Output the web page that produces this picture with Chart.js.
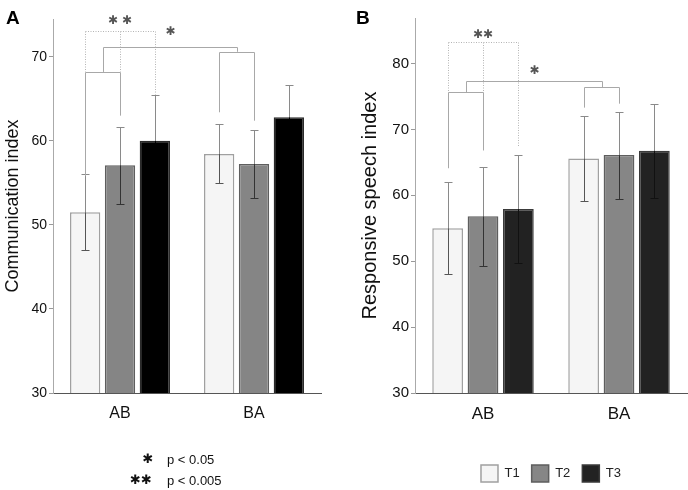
<!DOCTYPE html>
<html>
<head>
<meta charset="utf-8">
<script src="https://cdn.jsdelivr.net/npm/chart.js@4.4.0/dist/chart.umd.min.js"></script>
<style>
    html, body { margin: 0; padding: 0; background: #fff; }
    #wrap { position: relative; width: 688px; height: 490px; }
    .panel { position: absolute; top: 0; width: 344px; height: 490px; }
</style>
</head>
<body>
<div id="wrap">
    <div class="panel" style="left:0"><canvas id="chartA" width="344" height="490"></canvas></div>
    <div class="panel" style="left:344px"><canvas id="chartB" width="344" height="490"></canvas></div>
</div>
<script>
const groups = ['AB', 'BA'];
const seriesNames = ['T1', 'T2', 'T3'];

// Panel A - communication index (means and error half-widths)
const commT1 = [51.5, 58.45];
const commT2 = [57.1, 57.25];
const commT3 = [60.0, 62.8];
const commErrT1 = [4.5, 3.5];
const commErrT2 = [4.6, 4.1];
const commErrT3 = [5.5, 3.8];
const commTicks = [30, 40, 50, 60, 70];

// Panel B - responsive speech index
const speechT1 = [55.0, 65.6];
const speechT2 = [56.8, 66.1];
const speechT3 = [57.9, 66.75];
const speechErrT1 = [7.0, 6.5];
const speechErrT2 = [7.5, 6.6];
const speechErrT3 = [8.2, 7.1];
const speechTicks = [30, 40, 50, 60, 70, 80];

// significance brackets (levels in index units)
const bracketsA = [
    { cat: 0, bars: [0, 1, 2], level: 73.1, ends: [68.2, 68.2, 65.5], dash: true },
    { cat: 0, bars: [0, 1], level: 68.2, ends: [55.8, 63.0] },
    { cat: 1, bars: [0, 1], level: 70.6, ends: [63.4, 62.4] }
];
const linkA = { level: 71.2, ends: [68.2, 70.6] };
const starsA = [
    { text: '✱ ✱', cat: 0, bar: 1, value: 74.3 },
    { text: '✱', link: true, value: 73.0 }
];

const bracketsB = [
    { cat: 0, bars: [0, 1, 2], level: 83.2, ends: [75.6, 75.6, 67.4], dash: true },
    { cat: 0, bars: [0, 1], level: 75.6, ends: [64.1, 66.8] },
    { cat: 1, bars: [0, 1], level: 76.4, ends: [73.3, 73.9] }
];
const linkB = { level: 77.4, ends: [75.6, 76.4] };
const starsB = [
    { text: '✱✱', cat: 0, bar: 1, value: 84.4 },
    { text: '✱', link: true, value: 78.9 }
];

const FONT = "'Liberation Sans', Arial, sans-serif";

function barX(chart, ds, cat) {
    return chart.getDatasetMeta(ds).data[cat].x;
}

// error bars, brackets, stars, panel letter
const sigPlugin = {
    id: 'sig',
    afterDatasetsDraw(chart, args, opts) {
        const ctx = chart.ctx;
        const y = chart.scales.y;
        ctx.save();

        // error bars: lighter above the bar, darker inside
        opts.errors.forEach((errs, ds) => {
            const meta = chart.getDatasetMeta(ds);
            meta.data.forEach((bar, i) => {
                const v = chart.data.datasets[ds].data[i];
                const yTop = Math.round(y.getPixelForValue(v + errs[i])) + 0.5;
                const yBot = Math.round(y.getPixelForValue(v - errs[i])) + 0.5;
                const x = Math.round(bar.x) + 0.5;
                ctx.lineWidth = 1;
                ctx.strokeStyle = opts.errOuter;
                ctx.beginPath();
                ctx.moveTo(x, yTop); ctx.lineTo(x, bar.y);
                ctx.moveTo(x - 4, yTop); ctx.lineTo(x + 4, yTop);
                ctx.stroke();
                ctx.strokeStyle = opts.errInner[ds];
                ctx.beginPath();
                ctx.moveTo(x, bar.y); ctx.lineTo(x, yBot);
                ctx.moveTo(x - 4, yBot); ctx.lineTo(x + 4, yBot);
                ctx.stroke();
            });
        });

        // brackets
        const mids = [];
        opts.brackets.forEach(b => {
            const xs = b.bars.map(k => Math.round(barX(chart, k, b.cat)) + 0.5);
            const yl = Math.round(y.getPixelForValue(b.level)) + 0.5;
            ctx.strokeStyle = b.dash ? '#b4b4b4' : '#a8a8a8';
            ctx.lineWidth = 1;
            ctx.setLineDash(b.dash ? [1, 1.5] : []);
            ctx.beginPath();
            ctx.moveTo(xs[0], yl); ctx.lineTo(xs[xs.length - 1], yl);
            xs.forEach((x, k) => {
                ctx.moveTo(x, yl); ctx.lineTo(x, y.getPixelForValue(b.ends[k]));
            });
            ctx.stroke();
            if (!b.dash) mids.push((xs[0] + xs[xs.length - 1]) / 2);
        });
        ctx.setLineDash([]);
        const link = opts.link;
        const ly = Math.round(y.getPixelForValue(link.level)) + 0.5;
        const m0 = Math.round(mids[0]) + 0.5, m1 = Math.round(mids[1]) + 0.5;
        ctx.strokeStyle = '#a8a8a8';
        ctx.beginPath();
        ctx.moveTo(m0, y.getPixelForValue(link.ends[0]));
        ctx.lineTo(m0, ly); ctx.lineTo(m1, ly);
        ctx.lineTo(m1, y.getPixelForValue(link.ends[1]));
        ctx.stroke();

        // stars
        ctx.fillStyle = '#555';
        ctx.font = '12px DejaVu Sans';
        ctx.textAlign = 'center';
        ctx.textBaseline = 'middle';
        opts.stars.forEach(s => {
            const x = s.link ? (m0 + m1) / 2 : barX(chart, s.bar, s.cat);
            ctx.fillText(s.text, x, y.getPixelForValue(s.value));
        });
        ctx.restore();
    },
    afterDraw(chart, args, opts) {
        const ctx = chart.ctx;
        ctx.save();
        ctx.fillStyle = '#000';
        ctx.font = 'bold 19px ' + FONT;
        ctx.textAlign = 'left';
        ctx.textBaseline = 'alphabetic';
        ctx.fillText(opts.letter, opts.letterX, 24);
        if (opts.keyNote) {
            ctx.textBaseline = 'middle';
            ctx.textAlign = 'center';
            ctx.font = '13px DejaVu Sans';
            ctx.fillStyle = '#111';
            ctx.fillText('✱', 148, 460);
            ctx.fillText('✱✱', 141, 481);
            ctx.textAlign = 'left';
            ctx.font = '13px ' + FONT;
            ctx.fillText('p < 0.05', 167, 460);
            ctx.fillText('p < 0.005', 167, 481);
        }
        ctx.restore();
    }
};

function makeChart(id, cfg) {
    return new Chart(document.getElementById(id), {
        type: 'bar',
        data: {
            labels: groups,
            datasets: cfg.series.map((vals, k) => ({
                label: seriesNames[k],
                data: vals,
                backgroundColor: cfg.fills[k],
                borderColor: cfg.borders[k],
                borderWidth: 1.5,
                borderSkipped: false,
                categoryPercentage: 0.78,
                barPercentage: 0.87
            }))
        },
        options: {
            responsive: false,
            animation: false,
            layout: { padding: cfg.padding },
            plugins: {
                legend: cfg.legend,
                tooltip: { enabled: false },
                sig: {
                    errors: cfg.errors,
                    errOuter: '#8a8a8a',
                    errInner: cfg.errInner,
                    brackets: cfg.brackets,
                    link: cfg.link,
                    stars: cfg.stars,
                    letter: cfg.letter,
                    letterX: cfg.letterX,
                    keyNote: cfg.keyNote
                }
            },
            scales: {
                x: {
                    grid: { display: false, drawTicks: false },
                    border: { display: true, color: '#555', width: 1 },
                    ticks: { color: '#111', font: { family: FONT, size: cfg.catSize }, padding: 11 },
                    afterFit(scale) { scale.height = cfg.xHeight; }
                },
                y: {
                    min: 30,
                    max: cfg.max,
                    afterBuildTicks(scale) { scale.ticks = cfg.ticks.map(v => ({ value: v })); },
                    grid: { drawOnChartArea: false, tickLength: 4, color: '#999' },
                    border: { color: '#aaa', width: 1 },
                    ticks: { color: '#111', padding: 2, font: { family: FONT, size: cfg.tickSize } },
                    title: {
                        display: true,
                        text: cfg.title,
                        color: '#111',
                        font: { family: FONT, size: cfg.titleSize },
                        padding: { top: cfg.titlePad, bottom: 0 }
                    },
                    afterFit(scale) { scale.width = cfg.axisWidth; }
                }
            }
        },
        plugins: [sigPlugin]
    });
}

const chartA = makeChart('chartA', {
    series: [commT1, commT2, commT3],
    errors: [commErrT1, commErrT2, commErrT3],
    errInner: ['#555', '#333', '#000'],
    fills: ['#f5f5f5', '#858585', '#000000'],
    borders: ['#a0a0a0', '#5e5e5e', '#2a2a2a'],
    max: 74.5,
    ticks: commTicks,
    title: 'Communication index',
    titleSize: 18,
    titlePad: 2,
    tickSize: 14,
    catSize: 16,
    axisWidth: 53,
    xHeight: 30,
    padding: { left: 0, right: 23, top: 19, bottom: 67 },
    legend: { display: false },
    brackets: bracketsA,
    link: linkA,
    stars: starsA,
    letter: 'A',
    letterX: 6,
    keyNote: true
});

const chartB = makeChart('chartB', {
    series: [speechT1, speechT2, speechT3],
    errors: [speechErrT1, speechErrT2, speechErrT3],
    errInner: ['#555', '#333', '#111'],
    fills: ['#f5f5f5', '#868686', '#222222'],
    borders: ['#a0a0a0', '#5e5e5e', '#3a3a3a'],
    max: 86.9,
    ticks: speechTicks,
    title: 'Responsive speech index',
    titleSize: 20,
    titlePad: 14,
    tickSize: 15,
    catSize: 17,
    axisWidth: 71,
    xHeight: 60,
    padding: { left: 0, right: 1, top: 18, bottom: -2 },
    legend: {
        display: true,
        position: 'bottom',
        fullSize: false,
        labels: {
            boxWidth: 17,
            boxHeight: 17,
            padding: 12,
            color: '#222',
            font: { family: FONT, size: 13 }
        }
    },
    brackets: bracketsB,
    link: linkB,
    stars: starsB,
    letter: 'B',
    letterX: 12,
    keyNote: false
});
</script>
</body>
</html>
